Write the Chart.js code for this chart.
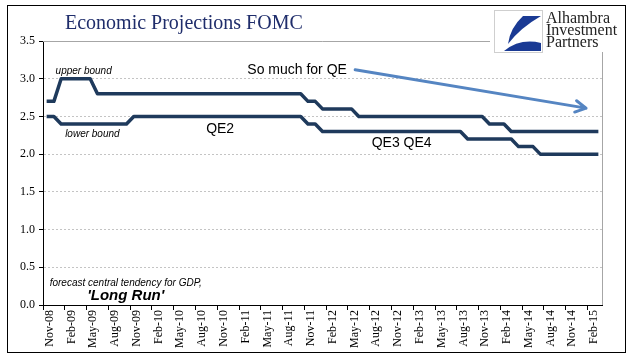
<!DOCTYPE html>
<html>
<head>
<meta charset="utf-8">
<script src="https://cdn.jsdelivr.net/npm/chart.js@4"></script>
<style>
  html, body { margin: 0; padding: 0; background: #fff; }
  canvas { display: block; }
</style>
</head>
<body>
<canvas id="fomcChart" width="641" height="358"></canvas>
<script>
// monthly observations, Nov-08 .. Mar-15
var months = [
    'Nov-08', 'Dec-08',
    'Jan-09', 'Feb-09', 'Mar-09', 'Apr-09', 'May-09', 'Jun-09', 'Jul-09', 'Aug-09', 'Sep-09', 'Oct-09', 'Nov-09', 'Dec-09',
    'Jan-10', 'Feb-10', 'Mar-10', 'Apr-10', 'May-10', 'Jun-10', 'Jul-10', 'Aug-10', 'Sep-10', 'Oct-10', 'Nov-10', 'Dec-10',
    'Jan-11', 'Feb-11', 'Mar-11', 'Apr-11', 'May-11', 'Jun-11', 'Jul-11', 'Aug-11', 'Sep-11', 'Oct-11', 'Nov-11', 'Dec-11',
    'Jan-12', 'Feb-12', 'Mar-12', 'Apr-12', 'May-12', 'Jun-12', 'Jul-12', 'Aug-12', 'Sep-12', 'Oct-12', 'Nov-12', 'Dec-12',
    'Jan-13', 'Feb-13', 'Mar-13', 'Apr-13', 'May-13', 'Jun-13', 'Jul-13', 'Aug-13', 'Sep-13', 'Oct-13', 'Nov-13', 'Dec-13',
    'Jan-14', 'Feb-14', 'Mar-14', 'Apr-14', 'May-14', 'Jun-14', 'Jul-14', 'Aug-14', 'Sep-14', 'Oct-14', 'Nov-14', 'Dec-14',
    'Jan-15', 'Feb-15', 'Mar-15'
];

var upperBound = [
    2.7, 2.7,
    3.0, 3.0, 3.0, 3.0, 3.0, 2.8, 2.8, 2.8, 2.8, 2.8, 2.8, 2.8,
    2.8, 2.8, 2.8, 2.8, 2.8, 2.8, 2.8, 2.8, 2.8, 2.8, 2.8, 2.8,
    2.8, 2.8, 2.8, 2.8, 2.8, 2.8, 2.8, 2.8, 2.8, 2.8, 2.7, 2.7,
    2.6, 2.6, 2.6, 2.6, 2.6, 2.5, 2.5, 2.5, 2.5, 2.5, 2.5, 2.5,
    2.5, 2.5, 2.5, 2.5, 2.5, 2.5, 2.5, 2.5, 2.5, 2.5, 2.5, 2.4,
    2.4, 2.4, 2.3, 2.3, 2.3, 2.3, 2.3, 2.3, 2.3, 2.3, 2.3, 2.3,
    2.3, 2.3, 2.3
];

var lowerBound = [
    2.5, 2.5,
    2.4, 2.4, 2.4, 2.4, 2.4, 2.4, 2.4, 2.4, 2.4, 2.4, 2.5, 2.5,
    2.5, 2.5, 2.5, 2.5, 2.5, 2.5, 2.5, 2.5, 2.5, 2.5, 2.5, 2.5,
    2.5, 2.5, 2.5, 2.5, 2.5, 2.5, 2.5, 2.5, 2.5, 2.5, 2.4, 2.4,
    2.3, 2.3, 2.3, 2.3, 2.3, 2.3, 2.3, 2.3, 2.3, 2.3, 2.3, 2.3,
    2.3, 2.3, 2.3, 2.3, 2.3, 2.3, 2.3, 2.3, 2.2, 2.2, 2.2, 2.2,
    2.2, 2.2, 2.2, 2.1, 2.1, 2.1, 2.0, 2.0, 2.0, 2.0, 2.0, 2.0,
    2.0, 2.0, 2.0
];

var yTicks = [0, 0.5, 1.0, 1.5, 2.0, 2.5, 3.0, 3.5];

var lineColor = '#1f3a5c';
var serif = '"Liberation Serif", "Times New Roman", serif';
var sans = '"Liberation Sans", Arial, sans-serif';

// text placed against the chart's own scales: [text, month index, value, font]
var notes = [
    ['upper bound', 5.1, 3.10, 'italic 10px ' + sans],
    ['lower bound', 6.3, 2.27, 'italic 10px ' + sans],
    ['QE2', 23.9, 2.33, '14px ' + sans],
    ['QE3 QE4', 48.9, 2.15, '14px ' + sans],
    ['So much for QE', 34.5, 3.12, '14px ' + sans],
    ['forecast central tendency for GDP,', 10.9, 0.29, 'italic 10px ' + sans],
    ["'Long Run'", 10.9, 0.12, 'italic bold 15px ' + sans]
];

function drawArrow(c, x1, y1, x2, y2){
    var ang = Math.atan2(y2 - y1, x2 - x1);
    var head = 12;
    c.save();
    c.strokeStyle = '#5585c2';
    c.lineWidth = 3;
    c.lineCap = 'round';
    c.lineJoin = 'round';
    c.beginPath();
    c.moveTo(x1, y1);
    c.lineTo(x2, y2);
    c.moveTo(x2 - head * Math.cos(ang - 0.5), y2 - head * Math.sin(ang - 0.5));
    c.lineTo(x2, y2);
    c.lineTo(x2 - head * Math.cos(ang + 0.5), y2 - head * Math.sin(ang + 0.5));
    c.stroke();
    c.restore();
}

function drawLogo(c){
    c.save();
    c.fillStyle = '#fff';
    c.fillRect(490, 7, 134, 45);
    c.strokeStyle = '#cfcfcf';
    c.lineWidth = 1;
    c.strokeRect(494.5, 10.5, 48, 42);
    c.fillStyle = '#1a3a94';
    c.beginPath();
    c.moveTo(523, 16);
    c.lineTo(541, 16);
    c.quadraticCurveTo(520, 28, 508, 44);
    c.quadraticCurveTo(510, 28, 523, 16);
    c.fill();
    c.beginPath();
    c.moveTo(504, 51);
    c.quadraticCurveTo(520, 38, 541, 43);
    c.lineTo(541, 51);
    c.closePath();
    c.fill();
    c.fillStyle = '#222';
    c.font = '16px ' + serif;
    c.textBaseline = 'alphabetic';
    c.fillText('Alhambra', 546, 23);
    c.fillText('Investment', 546, 35);
    c.fillText('Partners', 546, 47);
    c.restore();
}

var decorations = {
    id: 'decorations',
    afterDraw: function(chart){
        var c = chart.ctx;
        var area = chart.chartArea;
        var xs = chart.scales.x;
        var ys = chart.scales.y;

        // plot area border, top and right
        c.save();
        c.strokeStyle = '#a6a6a6';
        c.lineWidth = 1;
        c.beginPath();
        c.moveTo(area.left, Math.round(area.top) + 0.5);
        c.lineTo(Math.round(area.right) + 0.5, Math.round(area.top) + 0.5);
        c.lineTo(Math.round(area.right) + 0.5, area.bottom);
        c.stroke();
        c.restore();

        c.save();
        c.fillStyle = '#000';
        c.textAlign = 'center';
        c.textBaseline = 'middle';
        notes.forEach(function(n){
            c.font = n[3];
            c.fillText(n[0], xs.getPixelForValue(n[1]), ys.getPixelForValue(n[2]));
        });
        c.restore();

        drawArrow(c, xs.getPixelForValue(42.5), ys.getPixelForValue(3.12),
                     xs.getPixelForValue(74.3), ys.getPixelForValue(2.61));

        // title
        c.save();
        c.fillStyle = '#1f2d6b';
        c.font = '20px ' + serif;
        c.textBaseline = 'alphabetic';
        c.fillText('Economic Projections FOMC', 65, 29);
        c.restore();

        // outer frame
        c.save();
        c.strokeStyle = '#000';
        c.lineWidth = 1;
        c.strokeRect(7.5, 5.5, 618, 347);
        c.restore();

        drawLogo(c);
    }
};

var graphData = {
    type: 'line',
    data: {
        labels: months,
        datasets: [{
            label: 'upper bound',
            data: upperBound,
            borderColor: lineColor,
            borderWidth: 3.5,
            pointRadius: 0,
            tension: 0,
            borderJoinStyle: 'round'
        }, {
            label: 'lower bound',
            data: lowerBound,
            borderColor: lineColor,
            borderWidth: 3.5,
            pointRadius: 0,
            tension: 0,
            borderJoinStyle: 'round'
        }]
    },
    options: {
        responsive: false,
        animation: false,
        devicePixelRatio: 1,
        layout: { padding: { top: 41, right: 39, bottom: 0, left: 0 } },
        plugins: { legend: { display: false }, tooltip: { enabled: false } },
        scales: {
            x: {
                offset: true,
                grid: {
                    offset: true,
                    drawOnChartArea: false,
                    tickLength: 5,
                    tickColor: function(ctx){ return ctx.index % 3 === 0 ? '#000' : 'rgba(0,0,0,0)'; }
                },
                border: { color: '#000', width: 1 },
                ticks: {
                    autoSkip: false,
                    maxRotation: 90,
                    minRotation: 90,
                    padding: 0,
                    labelOffset: 3,
                    color: '#000',
                    font: { family: serif, size: 12 },
                    callback: function(v, i){ return i % 3 === 0 ? months[i] : ''; }
                },
                afterFit: function(scale){ scale.height = 53; }
            },
            y: {
                min: 0,
                max: 3.5,
                afterBuildTicks: function(scale){ scale.ticks = yTicks.map(function(v){ return { value: v }; }); },
                ticks: {
                    padding: 4,
                    color: '#000',
                    font: { family: serif, size: 12 },
                    callback: function(v){ return v.toFixed(1); }
                },
                grid: {
                    color: function(ctx){ return ctx.tick && ctx.tick.value === 0 ? 'rgba(0,0,0,0)' : '#c4c4c4'; },
                    tickColor: '#000',
                    tickLength: 4
                },
                border: { color: '#000', width: 1, dash: [2, 2] },
                afterFit: function(scale){ scale.width = 43; }
            }
        }
    },
    plugins: [decorations]
};

var fomcChart = new Chart(document.getElementById('fomcChart').getContext('2d'), graphData);
</script>
</body>
</html>
